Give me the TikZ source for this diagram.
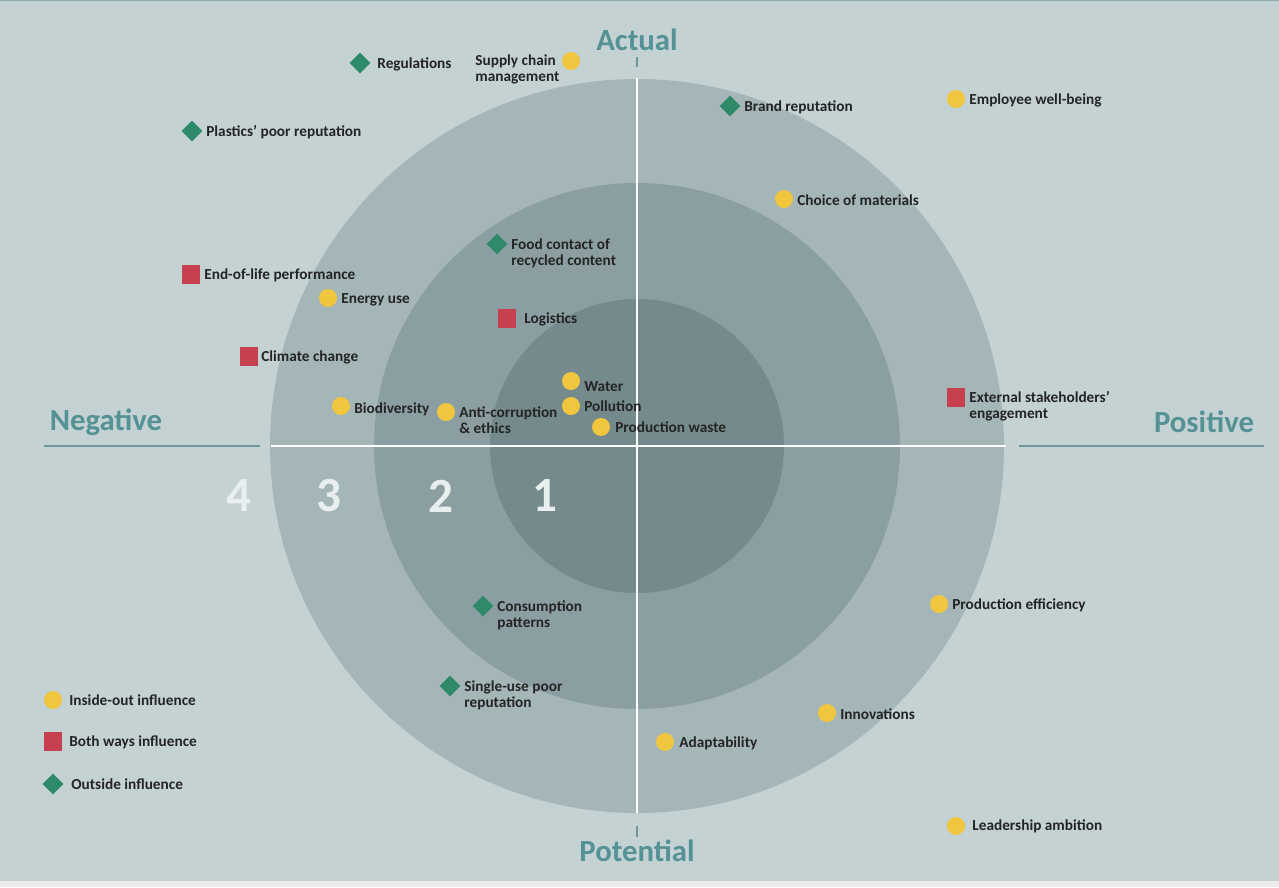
\documentclass[tikz,border=0pt]{standalone}
\usepackage{fontspec}
\setmainfont{Carlito}
\usetikzlibrary{shapes.geometric,positioning}
\definecolor{bgcol}{HTML}{C5D2D3}
\definecolor{ring3}{HTML}{A5B6B8}
\definecolor{ring2}{HTML}{8B9EA1}
\definecolor{ring1}{HTML}{748A8D}
\definecolor{axteal}{HTML}{559295}
\definecolor{lineteal}{HTML}{6F9698}
\definecolor{dotyellow}{HTML}{EFC63E}
\definecolor{boxred}{HTML}{C7404F}
\definecolor{diagreen}{HTML}{2F8A6A}
\definecolor{txtdark}{HTML}{242424}
\definecolor{numwhite}{HTML}{E9EFEF}

\begin{document}
\begin{tikzpicture}[x=0.2mm,y=-0.2mm,font=\bfseries\fontsize{8.7}{9.1}\selectfont,
  inout/.style={circle,fill=dotyellow,minimum size=3.6mm,inner sep=0},
  both/.style={rectangle,fill=boxred,minimum width=3.6mm,minimum height=3.8mm,inner sep=0},
  outside/.style={diamond,fill=diagreen,minimum size=4.2mm,inner sep=0},
  lbl/.style={anchor=base west,align=left,inner sep=0,text=txtdark},
  axlbl/.style={inner sep=0,text=axteal,font=\bfseries\fontsize{17.5}{20}\selectfont},
  ringnum/.style={inner sep=0,text=numwhite,font=\bfseries\fontsize{28}{30}\selectfont}]
\useasboundingbox (0,0) rectangle (1279,887);
\fill[bgcol] (0,0) rectangle (1279,887);
\fill[black!8] (0,881) rectangle (1279,887);
\draw[lineteal!80,line width=0.6pt] (0,0.5) -- (1279,0.5);

\coordinate (c) at (637,446);
\fill[ring3] (c) circle[radius=367];
\fill[ring2] (c) circle[radius=263];
\fill[ring1] (c) circle[radius=147];
\draw[white,line width=1.1pt] (271,446) -- (1006,446);
\draw[white,line width=1.1pt] (637,78) -- (637,813);
\draw[lineteal,line width=0.9pt] (44,446) -- (260,446);
\draw[lineteal,line width=0.9pt] (1019,446) -- (1264,446);
\draw[lineteal,line width=0.6pt] (637,57) -- (637,67);
\draw[lineteal,line width=0.6pt] (637,826) -- (637,837);

\node[axlbl] (act) at (637,40) {Actual};
\node[axlbl] (pot) at (637,851) {Potential};
\node[axlbl] (neg) at (106,422) {Negative};
\node[axlbl] (pos) at (1204,422) {Positive};
\foreach \n/\x in {4/239,3/329,2/441,1/545}
  \node[ringnum] (n\n) at (\x,496) {\n};

\node[outside] (m1) at (360,63) {};
\node[lbl] (t1) at (377,68) {Regulations};
\node[inout] (m2) at (571,61) {};
\node[lbl] (t2) at (475,81) {Supply chain\\management};
\node[outside] (m3) at (192,131) {};
\node[lbl] (t3) at (206,136) {Plastics’ poor reputation};
\node[outside] (m4) at (730,106) {};
\node[lbl] (t4) at (744,111) {Brand reputation};
\node[inout] (m5) at (956,99) {};
\node[lbl] (t5) at (969,104) {Employee well-being};
\node[inout] (m6) at (784,199) {};
\node[lbl] (t6) at (797,205) {Choice of materials};
\node[outside] (m7) at (497,244) {};
\node[lbl] (t7) at (511,265) {Food contact of\\recycled content};
\node[both] (m8) at (191,274) {};
\node[lbl] (t8) at (204,279) {End-of-life performance};
\node[inout] (m9) at (328,298) {};
\node[lbl] (t9) at (341,303) {Energy use};
\node[both] (m10) at (507,318) {};
\node[lbl] (t10) at (524,323) {Logistics};
\node[both] (m11) at (249,356) {};
\node[lbl] (t11) at (261,361) {Climate change};
\node[inout] (m12) at (571,381) {};
\node[lbl] (t12) at (584,391) {Water};
\node[inout] (m13) at (571,406) {};
\node[lbl] (t13) at (584,411) {Pollution};
\node[inout] (m14) at (601,427) {};
\node[lbl] (t14) at (615,432) {Production waste};
\node[inout] (m15) at (341,406) {};
\node[lbl] (t15) at (354,413) {Biodiversity};
\node[inout] (m16) at (446,412) {};
\node[lbl] (t16) at (459,433) {Anti-corruption\\\& ethics};
\node[both] (m17) at (956,397) {};
\node[lbl] (t17) at (969,418) {External stakeholders’\\engagement};
\node[outside] (m18) at (483,606) {};
\node[lbl] (t18) at (497,627) {Consumption\\patterns};
\node[outside] (m19) at (450,686) {};
\node[lbl] (t19) at (464,707) {Single-use poor\\reputation};
\node[inout] (m20) at (939,604) {};
\node[lbl] (t20) at (952,609) {Production efficiency};
\node[inout] (m21) at (827,713) {};
\node[lbl] (t21) at (840,719) {Innovations};
\node[inout] (m22) at (665,742) {};
\node[lbl] (t22) at (679,747) {Adaptability};
\node[inout] (m23) at (956,826) {};
\node[lbl] (t23) at (972,830) {Leadership ambition};

\node[inout] (k1) at (53,700) {};
\node[lbl] (kt1) at (69,705) {Inside-out influence};
\node[both] (k2) at (53,741) {};
\node[lbl] (kt2) at (69,746) {Both ways influence};
\node[outside] (k3) at (53,784) {};
\node[lbl] (kt3) at (71,789) {Outside influence};
\end{tikzpicture}
\end{document}
